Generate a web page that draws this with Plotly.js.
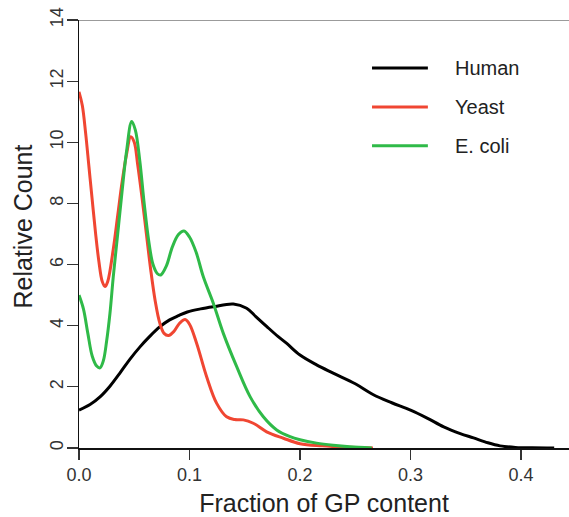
<!DOCTYPE html>
<html>
<head>
<meta charset="utf-8">
<script src="https://cdn.plot.ly/plotly-3.0.1.min.js"></script>
<style>html,body{margin:0;padding:0;background:#fff;}#chart{width:569px;height:517px;}</style>
</head>
<body>
<div id="chart"></div>
<script>
// Series names and colours
const seriesNames = ["Human", "Yeast", "E. coli"];
const seriesColors = ["#000000", "#f04632", "#2fba48"];

// Human density
const humanX = [0, 0.01, 0.019, 0.028, 0.037, 0.046, 0.055, 0.064, 0.073, 0.082, 0.09, 0.098, 0.11, 0.1216, 0.1397, 0.1517, 0.16, 0.17, 0.18, 0.188, 0.2, 0.215, 0.23, 0.25, 0.266, 0.283, 0.3, 0.315, 0.33, 0.345, 0.357, 0.37, 0.381, 0.395, 0.41, 0.43];
const humanY = [1.24, 1.42, 1.67, 2.02, 2.45, 2.9, 3.3, 3.65, 3.96, 4.19, 4.33, 4.45, 4.55, 4.62, 4.71, 4.57, 4.3, 3.97, 3.65, 3.42, 3.04, 2.72, 2.45, 2.1, 1.75, 1.48, 1.24, 0.98, 0.69, 0.47, 0.33, 0.17, 0.07, 0.02, 0.005, 0.0];

// Yeast density
const yeastX = [0, 0.003, 0.006, 0.009, 0.012, 0.015, 0.018, 0.021, 0.0235, 0.026, 0.031, 0.035, 0.039, 0.043, 0.0468, 0.05, 0.053, 0.057, 0.061, 0.065, 0.069, 0.073, 0.077, 0.081, 0.086, 0.091, 0.096, 0.1, 0.1065, 0.1155, 0.1246, 0.1336, 0.141, 0.1487, 0.1577, 0.1698, 0.185, 0.2, 0.22, 0.24, 0.266];
const yeastY = [11.65, 11.2, 10.3, 9.2, 8.1, 7.02, 6.1, 5.45, 5.28, 5.45, 6.5, 7.6, 8.7, 9.6, 10.18, 10.0, 9.3, 8.2, 7.0, 5.8, 4.8, 4.1, 3.75, 3.68, 3.82, 4.08, 4.2, 4.05, 3.42, 2.33, 1.46, 1.02, 0.93, 0.92, 0.81, 0.53, 0.32, 0.14, 0.07, 0.03, 0.0];

// E. coli density
const ecoliX = [0, 0.004, 0.008, 0.012, 0.016, 0.019, 0.022, 0.025, 0.028, 0.031, 0.035, 0.039, 0.043, 0.0477, 0.051, 0.055, 0.059, 0.063, 0.067, 0.071, 0.074, 0.079, 0.0845, 0.09, 0.095, 0.10, 0.106, 0.1125, 0.1216, 0.1306, 0.1427, 0.1548, 0.1668, 0.1789, 0.191, 0.2, 0.215, 0.23, 0.245, 0.265];
const ecoliY = [5.0, 4.55, 3.75, 3.0, 2.68, 2.62, 2.85, 3.5, 4.4, 5.6, 7.0, 8.4, 9.7, 10.68, 10.4, 9.4, 8.0, 6.8, 6.0, 5.7, 5.66, 5.95, 6.58, 6.98, 7.1, 6.9, 6.4, 5.6, 4.73, 3.75, 2.66, 1.68, 1.02, 0.59, 0.37, 0.27, 0.16, 0.09, 0.04, 0.0];

// Axis ticks and titles
const xTicks = [0.0, 0.1, 0.2, 0.3, 0.4];
const xTickLabels = ["0.0", "0.1", "0.2", "0.3", "0.4"];
const yTicks = [0, 2, 4, 6, 8, 10, 12, 14];
const yTickLabels = ["0", "2", "4", "6", "8", "10", "12", "14"];
const xTitle = "Fraction of GP content";
const yTitle = "Relative Count";

const xs = [humanX, yeastX, ecoliX];
const ys = [humanY, yeastY, ecoliY];

const traces = seriesNames.map((n, i) => ({
  x: xs[i], y: ys[i], name: n, type: "scatter", mode: "lines",
  line: {color: seriesColors[i], width: 3, shape: "spline", smoothing: 1},
  showlegend: false, hoverinfo: "skip"
}));

const legX0 = 0.598, legX1 = 0.712, legTextX = 0.763;
const legY = [0.888, 0.797, 0.706];
const shapes = [{
  type: "line", xref: "paper", yref: "y", x0: 0, x1: 1, y0: 14, y1: 14,
  line: {color: "#7a7a7a", width: 1.5}
}];
const annotations = [{
  xref: "paper", yref: "paper", x: -0.1163, y: 0.5175, text: yTitle, textangle: -90,
  showarrow: false, xanchor: "center", yanchor: "middle", font: {size: 25, color: "#222"}
}];
seriesNames.forEach((n, i) => {
  shapes.push({type: "line", xref: "paper", yref: "paper", x0: legX0, x1: legX1, y0: legY[i], y1: legY[i],
    line: {color: seriesColors[i], width: 3}});
  annotations.push({xref: "paper", yref: "paper", x: legTextX, y: legY[i], text: n, showarrow: false,
    xanchor: "left", yanchor: "middle", font: {size: 20, color: "#222"}});
});

const layout = {
  width: 569, height: 517,
  margin: {l: 79, r: 0, t: 20, b: 69, pad: 0},
  paper_bgcolor: "#fff", plot_bgcolor: "#fff",
  font: {family: "Liberation Sans, Arial, sans-serif", color: "#333"},
  showlegend: false,
  xaxis: {
    range: [0, 0.4434], tickvals: xTicks, ticktext: xTickLabels,
    showgrid: false, zeroline: false, showline: true, linecolor: "#111", linewidth: 1.5,
    ticks: "outside", ticklen: 10, tickwidth: 1.2, tickcolor: "#333",
    tickfont: {size: 18, color: "#333"},
    title: {text: xTitle, font: {size: 25, color: "#222"}, standoff: 12}
  },
  yaxis: {
    range: [0, 14], tickvals: yTicks, ticktext: yTickLabels, tickangle: -90,
    showgrid: false, zeroline: false, showline: true, linecolor: "#111", linewidth: 1.5,
    ticks: "outside", ticklen: 11, tickwidth: 1.2, tickcolor: "#333",
    tickfont: {size: 18, color: "#333"}, ticklabelstandoff: -4
  },
  shapes: shapes,
  annotations: annotations
};

Plotly.newPlot("chart", traces, layout, {displayModeBar: false, staticPlot: true});
</script>
</body>
</html>
